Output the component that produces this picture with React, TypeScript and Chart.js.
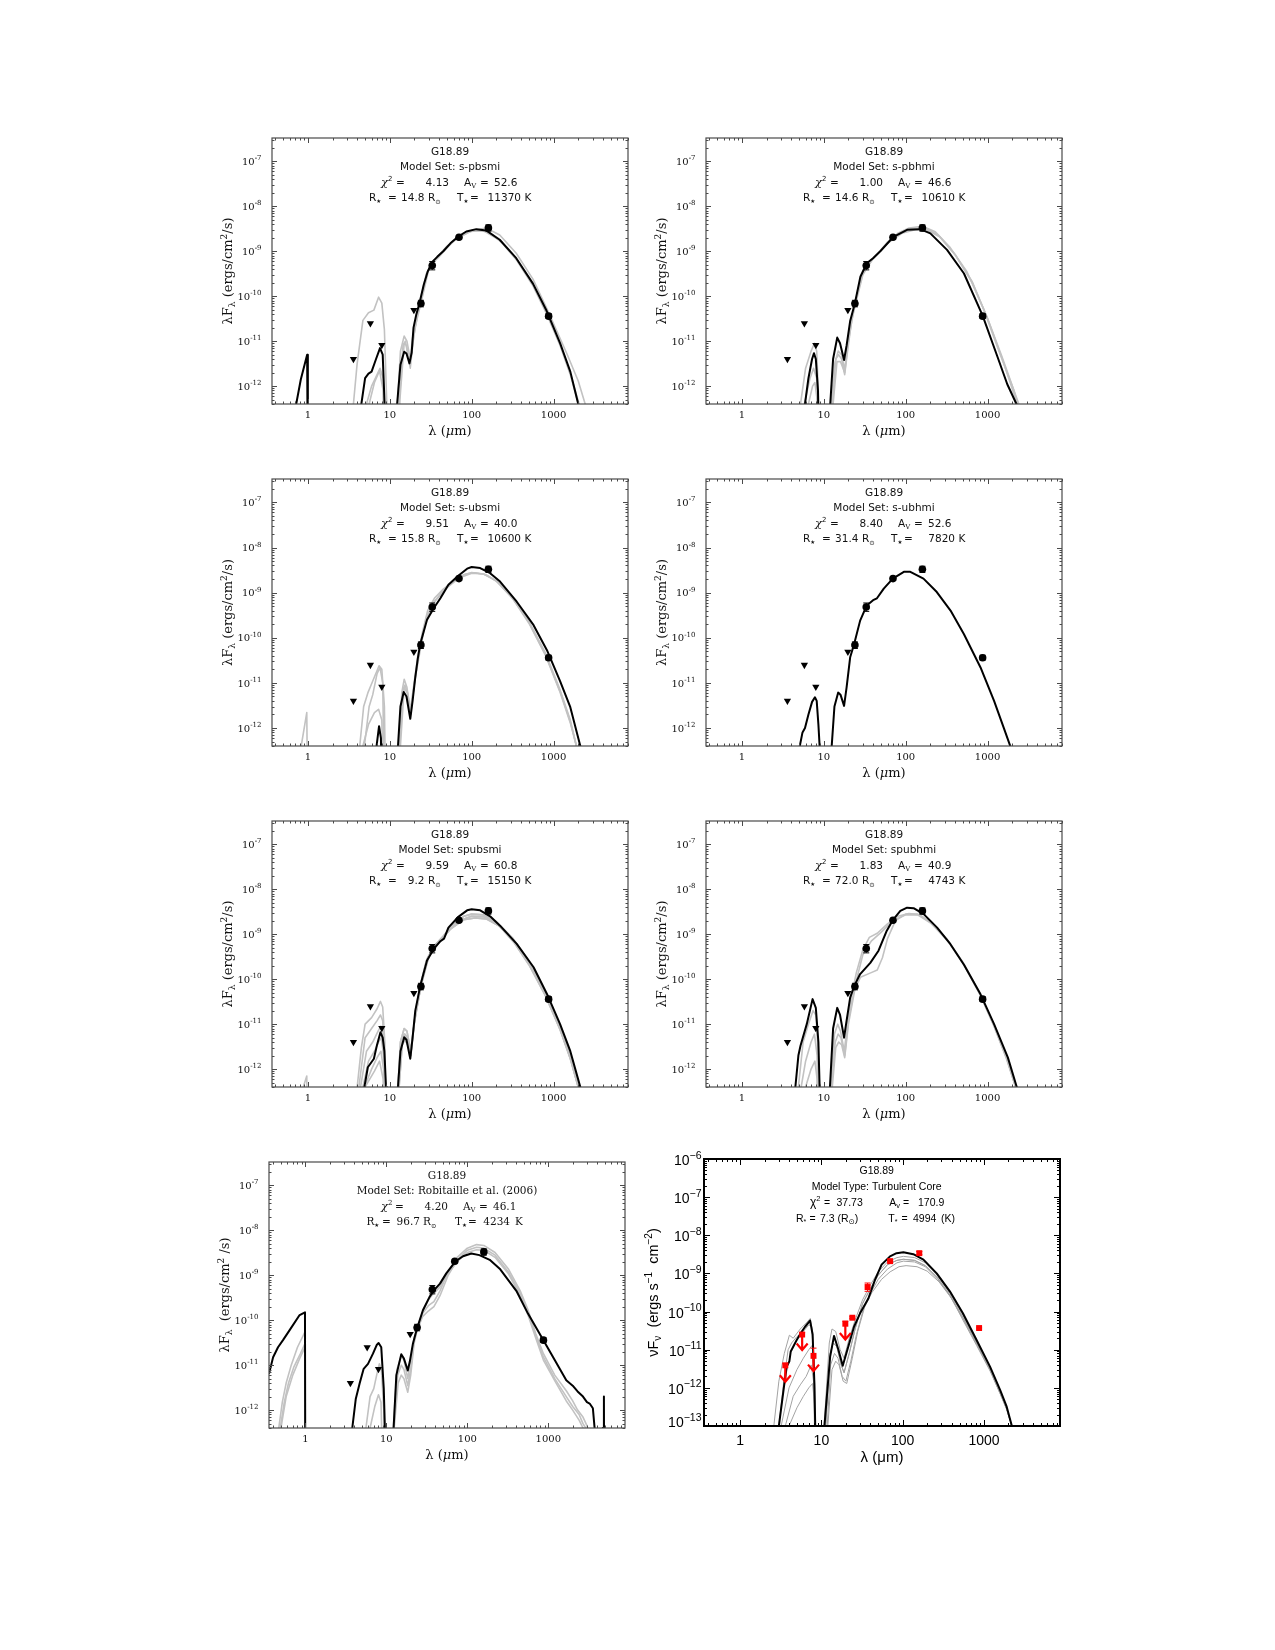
import React, { useEffect, useRef } from 'react';
import { Chart, registerables } from 'chart.js';
Chart.register(...registerables);

type Pt = [number, number];
type Seg = { t: string; font: string; dy?: number };

// ---------------- text content ----------------
const SOURCE = 'G18.89';
const MODEL_SETS = ['s-pbsmi', 's-pbhmi', 's-ubsmi', 's-ubhmi', 'spubsmi', 'spubhmi', 'Robitaille et al. (2006)'];
const CHI2 = ['4.13', '1.00', '9.51', '8.40', '9.59', '1.83', '4.20'];
const AV = ['52.6', '46.6', '40.0', '52.6', '60.8', '40.9', '46.1'];
const RSTAR = ['14.8', '14.6', '15.8', '31.4', '9.2', '72.0', '96.7'];
const TSTAR = ['11370', '10610', '10600', '7820', '15150', '4743', '4234'];
const TC_MODEL = 'Turbulent Core';
const TC_CHI2 = '37.73';
const TC_AV = '170.9';
const TC_R = '7.3';
const TC_T = '4994';

const X_TICK_LABELS = [1, 10, 100, 1000];
const Y_EXP_PY = [-12, -11, -10, -9, -8, -7];
const Y_EXP_TC = [-13, -12, -11, -10, -9, -8, -7, -6];

// ---------------- observations ----------------
const LIMIT_WAVE = [3.6, 5.8, 8.0, 19.7];
const LIMIT_FLUX = [4.0e-12, 2.5e-11, 8.2e-12, 4.9e-11];
const DET_WAVE = [24, 33, 70, 160, 870];
const DET_WAVE_R06 = [24, 37, 70, 160, 870];
const DET_FLUX = [6.9e-11, 4.8e-10, 2.05e-9, 3.3e-9, 3.6e-11];
const DET_LO = [5.8e-11, 3.85e-10, 1.9e-9, 2.8e-9, 3.2e-11];
const DET_HI = [8.1e-11, 5.9e-10, 2.2e-9, 3.85e-9, 4.1e-11];

const TC_LIMIT_WAVE = [3.6, 5.8, 8.0, 19.7];
const TC_LIMIT_FLUX = [3.9e-12, 2.5e-11, 6.9e-12, 4.8e-11];
const TC_LIMIT_HI = [4.3e-12, 2.8e-11, 1.1e-11, 5.6e-11];
const TC_LIMIT_TIP = [1.45e-12, 9.8e-12, 2.75e-12, 1.85e-11];
const TC_DET_WAVE = [24, 37, 70, 160, 870];
const TC_DET_FLUX = [6.9e-11, 4.4e-10, 2.1e-9, 3.4e-9, 3.7e-11];
const TC_DET_LO = [6.5e-11, 3.4e-10, 2.0e-9, 3.1e-9, 3.5e-11];
const TC_DET_HI = [7.3e-11, 5.6e-10, 2.2e-9, 3.75e-9, 3.9e-11];

// ---------------- panel 1 : s-pbsmi ----------------
const P1_FIT: Pt[] = [[0.70,3e-13],[0.82,1.4e-12],[0.98,5e-12],[1.0,1e-14],[4.3,1e-14],[4.5,4e-13],[5.0,1.5e-12],[5.5,1.9e-12],[6.0,2.1e-12],[6.8,4e-12],[7.6,7e-12],[8.2,5e-12],[8.7,3e-13],[9.0,1e-14],[11.8,1e-14],[12.3,4e-13],[13.5,3e-12],[15,5.8e-12],[16,5.3e-12],[17.4,3.2e-12],[18.5,5.5e-12],[19.5,2e-11],[21,3.8e-11],[23,6.9e-11],[26,1.8e-10],[29,3.5e-10],[33,5.8e-10],[38,7.5e-10],[45,1.0e-9],[55,1.5e-9],[67,2.05e-9],[86,2.75e-9],[114,3.1e-9],[150,2.9e-9],[220,1.8e-9],[350,7e-10],[560,1.9e-10],[810,5e-11],[1200,9e-12],[1600,2.1e-12],[2000,4e-13],[2300,1e-13]];
const P1_ALT_A: Pt[] = [[3.4,1e-14],[3.6,4e-13],[4.0,3.2e-12],[4.7,2.9e-11],[5.5,4.3e-11],[6.4,4.9e-11],[7.3,9.5e-11],[8.0,7e-11],[8.6,1.8e-11],[9.2,4e-13],[9.4,1e-14],[12,1e-14],[12.5,5e-13],[13.5,6e-12],[15,1.3e-11],[16.2,1e-11],[17.8,4e-12],[19,8e-12],[21,3e-11],[24,7.5e-11],[28,3e-10],[33,5.5e-10],[40,7.5e-10],[50,1.2e-9],[67,2e-9],[90,2.7e-9],[120,2.9e-9],[160,2.7e-9],[230,1.6e-9],[350,6.5e-10],[560,1.7e-10],[800,4.5e-11],[1200,8e-12],[1600,1.8e-12],[2000,4e-13],[2200,1e-13]];
const P1_ALT_B: Pt[] = [[4.8,1e-14],[5.2,4e-13],[6.0,1e-12],[7.0,1.8e-12],[7.6,2.5e-12],[8.3,1.5e-12],[8.8,1e-14],[12.5,1e-14],[13,4e-13],[14.5,8e-12],[15.5,1e-11],[17.5,3e-12],[19,1.2e-11],[24,7e-11],[30,4e-10],[40,8e-10],[60,1.7e-9],[100,2.9e-9],[150,3.3e-9],[220,2.3e-9],[350,9e-10],[560,2.4e-10],[830,5.2e-11],[1450,5.3e-12],[2000,1.3e-12],[2430,4e-13],[2600,1e-13]];
const P1_ALT_C: Pt[] = [[5.0,1e-14],[5.6,4e-13],[6.5,1.2e-12],[7.5,2.2e-12],[8.3,8e-13],[8.6,1e-14],[12.8,1e-14],[13.3,5e-13],[15,9e-12],[16,8e-12],[17.8,2.5e-12],[19.5,1.2e-11],[23,6.5e-11],[28,3.2e-10],[35,6.3e-10],[50,1.3e-9],[70,2.1e-9],[100,2.8e-9],[140,2.85e-9],[220,1.75e-9],[350,6.8e-10],[560,1.85e-10],[800,4.8e-11],[1200,8.5e-12],[1600,1.9e-12],[2050,4e-13],[2200,1e-13]];

// ---------------- panel 2 : s-pbhmi ----------------
const P2_FIT: Pt[] = [[5.7,1e-14],[5.9,4e-13],[6.5,1.5e-12],[7.2,4e-12],[7.6,5.4e-12],[8.0,4e-12],[8.5,8e-13],[8.8,1e-14],[11.6,1e-14],[12.0,4e-13],[13,4e-12],[14.6,1.2e-11],[15.8,9e-12],[17.7,3.8e-12],[19,8e-12],[21,2.8e-11],[24,7e-11],[28,2.7e-10],[33.5,5.4e-10],[40,7e-10],[49,1e-9],[70,2.05e-9],[104,3e-9],[150,3.1e-9],[200,2.5e-9],[320,1.07e-9],[515,3.2e-10],[870,3.7e-11],[1320,4.5e-12],[1740,1.1e-12],[2250,4e-13],[2500,1e-13]];
const P2_ALT_A: Pt[] = [[5.0,1e-14],[5.2,4e-13],[6.0,2.5e-12],[7.0,6e-12],[7.7,9e-12],[8.2,6e-12],[8.7,4e-13],[9.0,1e-14],[12,1e-14],[12.4,4e-13],[13.5,3e-12],[15,6e-12],[16.5,5e-12],[18,2.3e-12],[19.5,8e-12],[22,3.5e-11],[25,9e-11],[29,3e-10],[35,5.5e-10],[45,8.5e-10],[60,1.6e-9],[80,2.5e-9],[110,3.3e-9],[160,3.6e-9],[230,2.7e-9],[350,1.2e-9],[560,3.5e-10],[900,5e-11],[1400,5.5e-12],[2000,1e-12],[2650,2.5e-13]];
const P2_ALT_B: Pt[] = [[5.5,1e-14],[5.8,4e-13],[6.8,1.5e-12],[7.5,2.5e-12],[8.2,1.5e-12],[8.6,1e-14],[12.4,1e-14],[12.8,4e-13],[14,4e-12],[15.2,5e-12],[16.5,4e-12],[18,1.8e-12],[19.5,6e-12],[22,3e-11],[25,8e-11],[30,3e-10],[40,7e-10],[55,1.3e-9],[75,2.2e-9],[110,3.1e-9],[170,3.35e-9],[250,2.3e-9],[400,8.5e-10],[650,2e-10],[1000,3.2e-11],[1500,4.5e-12],[2100,8e-13],[2600,2e-13]];
const P2_ALT_C: Pt[] = [[6.0,1e-14],[6.5,4e-13],[7.3,1e-12],[7.8,1.2e-12],[8.3,5e-13],[8.5,1e-14],[12.5,1e-14],[13,4e-13],[14.5,3.5e-12],[16,3.5e-12],[18,2e-12],[20,1e-11],[24,7e-11],[30,3.2e-10],[40,6.8e-10],[60,1.5e-9],[90,2.5e-9],[130,3e-9],[180,3e-9],[260,2.1e-9],[400,8.5e-10],[650,2.1e-10],[1000,3.2e-11],[1600,3e-12],[2300,4e-13],[2500,1e-13]];

// ---------------- panel 3 : s-ubsmi ----------------
const P3_FIT: Pt[] = [[6.6,1e-14],[6.9,4e-13],[7.4,1.1e-12],[7.8,6e-13],[8.1,1e-14],[12.3,1e-14],[12.6,4e-13],[13.5,3e-12],[14.8,6.3e-12],[16,5e-12],[17.8,1.6e-12],[19,4e-12],[20.5,1.35e-11],[22,3.5e-11],[23.6,7.4e-11],[28.5,2.5e-10],[34.4,4.5e-10],[41.5,7.5e-10],[52,1.5e-9],[68,2.35e-9],[88,3.4e-9],[100,3.7e-9],[127,3.5e-9],[168,2.7e-9],[222,1.76e-9],[355,6.3e-10],[570,1.9e-10],[830,5.3e-11],[1200,1.1e-11],[1600,2.9e-12],[2120,4e-13],[2300,1e-13]];
const P3_ALT_A: Pt[] = [[0.8,1e-14],[0.83,4e-13],[0.97,2.2e-12],[1.0,1e-14],[4.1,1e-14],[4.3,4e-13],[4.8,3e-12],[5.4,6e-12],[6.2,1.1e-11],[7.4,2.4e-11],[8.0,2e-11],[8.6,3e-12],[9.0,1e-14],[12.5,1e-14],[13,4e-13],[14,6e-12],[15,1.2e-11],[16.2,8e-12],[17.8,2.5e-12],[19.5,8e-12],[22,4e-11],[25,1.3e-10],[29,4e-10],[35,7.5e-10],[45,1.2e-9],[60,1.8e-9],[80,2.5e-9],[100,2.8e-9],[140,2.6e-9],[200,1.8e-9],[300,8.5e-10],[500,2.3e-10],[800,4.5e-11],[1200,7e-12],[1600,1.5e-12],[1900,4e-13],[2000,1e-13]];
const P3_ALT_B: Pt[] = [[4.4,1e-14],[4.7,4e-13],[5.5,1.2e-12],[6.5,2.2e-12],[7.3,2.6e-12],[8.0,1.5e-12],[8.5,1e-14],[13,1e-14],[13.5,4e-13],[15,8e-12],[16.3,6e-12],[18,2e-12],[20,1e-11],[24,6.5e-11],[28,2.8e-10],[34,6e-10],[45,1.1e-9],[60,1.8e-9],[85,2.6e-9],[110,2.75e-9],[150,2.5e-9],[210,1.7e-9],[320,7.5e-10],[500,2.2e-10],[800,4.2e-11],[1200,6.5e-12],[1600,1.4e-12],[1900,4e-13],[2000,1e-13]];
const P3_ALT_C: Pt[] = [[4.6,1e-14],[4.9,4e-13],[5.6,3e-12],[6.2,5.5e-12],[7.0,1.6e-11],[7.6,2.2e-11],[8.2,1e-11],[8.7,1e-14],[12.8,1e-14],[13.2,4e-13],[14.5,7e-12],[15.3,9e-12],[16.5,6e-12],[18,2.2e-12],[19.5,7e-12],[23,5.5e-11],[28,2.7e-10],[35,6.2e-10],[50,1.3e-9],[70,2.1e-9],[100,2.7e-9],[140,2.6e-9],[200,1.85e-9],[320,7.2e-10],[500,2.1e-10],[800,4e-11],[1200,6.2e-12],[1600,1.3e-12],[1900,4e-13],[2000,1e-13]];

// ---------------- panel 4 : s-ubhmi ----------------
const P4_FIT: Pt[] = [[5.0,1e-14],[5.1,4e-13],[5.5,8e-13],[5.9,1e-12],[6.5,2e-12],[7.2,3.8e-12],[7.8,4.8e-12],[8.2,4e-12],[8.6,1.2e-12],[8.9,4e-13],[9.1,1e-14],[12.2,1e-14],[12.5,4e-13],[13.5,3e-12],[15,6.1e-12],[16,5.5e-12],[17.7,3.1e-12],[19,8e-12],[21,3.7e-11],[23.5,7.3e-11],[27.8,2.4e-10],[33.5,5.2e-10],[40,6.8e-10],[44.6,7.5e-10],[54,1.23e-9],[69.6,2.05e-9],[95,2.9e-9],[114,2.9e-9],[165,2.05e-9],[240,1.03e-9],[353,4e-10],[515,1.2e-10],[820,2.2e-11],[1200,4e-12],[1580,1e-12],[2000,3e-13],[2100,1e-13]];

// ---------------- panel 5 : spubsmi ----------------
const P5_FIT: Pt[] = [[4.7,1e-14],[4.9,4e-13],[5.4,1.1e-12],[6.4,1.7e-12],[7.0,3.5e-12],[7.7,6.6e-12],[8.2,5e-12],[8.6,2.5e-12],[9.0,4e-13],[9.2,1e-14],[12.3,1e-14],[12.6,4e-13],[13.5,2.5e-12],[15,5.1e-12],[16,4.5e-12],[17.8,1.7e-12],[19,5e-12],[20.5,2e-11],[23.6,7.2e-11],[28.5,2.6e-10],[34.4,4.7e-10],[41.5,7e-10],[46,8e-10],[52,1.4e-9],[68,2.4e-9],[88,3.4e-9],[100,3.6e-9],[127,3.4e-9],[168,2.5e-9],[222,1.55e-9],[355,6.1e-10],[570,1.84e-10],[830,4.7e-11],[1200,1e-11],[1600,2.5e-12],[2120,4e-13],[2300,1e-13]];
const P5_NIR_A: Pt[] = [[3.8,1e-14],[4.0,4e-13],[4.5,3e-12],[5.0,1e-11],[6.0,1.4e-11],[7.0,2.2e-11],[7.7,3.2e-11],[8.2,2.4e-11],[8.7,4e-12],[9.0,1e-14]];
const P5_NIR_B: Pt[] = [[4.0,1e-14],[4.2,4e-13],[5.0,5e-12],[6.0,8e-12],[7.0,1.2e-11],[7.7,1.6e-11],[8.2,1.2e-11],[8.7,1e-12],[8.9,1e-14]];
const P5_NIR_C: Pt[] = [[4.2,1e-14],[4.4,4e-13],[5.2,2.5e-12],[6.2,4e-12],[7.2,7e-12],[7.8,9e-12],[8.4,4e-12],[8.8,1e-14]];
const P5_NIR_D: Pt[] = [[4.4,1e-14],[4.7,4e-13],[5.5,1.5e-12],[6.5,2.5e-12],[7.3,4e-12],[7.9,5e-12],[8.4,2e-12],[8.8,1e-14]];
const P5_NIR_E: Pt[] = [[4.5,1e-14],[4.9,4e-13],[6.0,1e-12],[7.0,1.8e-12],[7.8,2.5e-12],[8.4,1e-12],[8.7,1e-14]];
const P5_NIR_F: Pt[] = [[0.85,1e-14],[0.88,4e-13],[0.97,7e-13],[1.0,1e-14],[4.6,1e-14],[5.0,4e-13],[6.5,9e-13],[7.5,1.5e-12],[8.3,6e-13],[8.6,1e-14]];
const P5_MAIN_1: Pt[] = [[12.3,1e-14],[12.6,4e-13],[13.5,4e-12],[15,8e-12],[16.2,7e-12],[18,2.5e-12],[19.5,8e-12],[23,6e-11],[28,2.6e-10],[35,5.5e-10],[45,9e-10],[60,1.7e-9],[80,2.5e-9],[100,2.8e-9],[140,2.7e-9],[200,1.9e-9],[320,8e-10],[500,2.5e-10],[800,5e-11],[1200,9e-12],[1600,2e-12],[2050,4e-13],[2200,1e-13]];
const P5_MAIN_2: Pt[] = [[12.5,1e-14],[12.8,4e-13],[14,5e-12],[15.2,6e-12],[16.5,5e-12],[18,2e-12],[20,1.1e-11],[24,7e-11],[29,3e-10],[36,5.8e-10],[50,1.1e-9],[70,2e-9],[100,2.5e-9],[140,2.45e-9],[200,1.75e-9],[320,7.3e-10],[500,2.3e-10],[800,4.5e-11],[1200,8e-12],[1600,1.8e-12],[2000,4e-13],[2150,1e-13]];
const P5_MAIN_3: Pt[] = [[12.6,1e-14],[13,4e-13],[14.2,3.5e-12],[15.3,4.5e-12],[16.5,3.5e-12],[18,2e-12],[20,1.2e-11],[24,7e-11],[30,3.2e-10],[40,6.5e-10],[55,1.3e-9],[80,2.1e-9],[110,2.3e-9],[150,2.2e-9],[220,1.5e-9],[330,6.5e-10],[500,2.1e-10],[800,4.2e-11],[1200,7.5e-12],[1600,1.7e-12],[2000,4e-13],[2150,1e-13]];

// ---------------- panel 6 : spubhmi ----------------
const P6_FIT: Pt[] = [[4.3,1e-14],[4.5,4e-13],[4.9,2e-12],[5.2,3.3e-12],[6.2,1e-11],[7.3,3.6e-11],[8.0,2.3e-11],[8.6,4e-12],[8.9,4e-13],[9.1,1e-14],[11.6,1e-14],[11.9,4e-13],[13,8e-12],[14.6,2.3e-11],[15.8,1.6e-11],[17.7,5e-12],[19,1.2e-11],[21,3.9e-11],[23.5,7e-11],[27.8,1.3e-10],[37,2.3e-10],[46.6,4.3e-10],[58.8,1.2e-9],[69.6,2.05e-9],[86,3.3e-9],[104,3.9e-9],[125,3.8e-9],[166,2.8e-9],[242,1.4e-9],[352,6e-10],[515,2.1e-10],[820,4.6e-11],[1200,1e-11],[1770,1.8e-12],[2270,4e-13],[2450,1e-13]];
const P6_ALT_A: Pt[] = [[4.6,1e-14],[4.9,4e-13],[5.6,4e-12],[6.5,1e-11],[7.4,2e-11],[8.0,1.6e-11],[8.5,3e-12],[8.8,1e-14],[11.8,1e-14],[12.2,4e-13],[13.5,6e-12],[14.8,1e-11],[16,7e-12],[17.8,2.5e-12],[19.5,1e-11],[22,4.5e-11],[25,1.4e-10],[30,4.5e-10],[36,8.5e-10],[45,1.05e-9],[60,1.7e-9],[80,2.5e-9],[110,2.9e-9],[150,2.7e-9],[220,1.6e-9],[350,6e-10],[520,2e-10],[820,4.3e-11],[1200,9e-12],[1700,1.8e-12],[2200,4e-13],[2350,1e-13]];
const P6_ALT_B: Pt[] = [[5.0,1e-14],[5.3,4e-13],[6.0,1.5e-12],[7.0,4e-12],[7.7,6e-12],[8.3,2e-12],[8.6,1e-14],[12,1e-14],[12.4,4e-13],[13.8,4e-12],[15,6e-12],[16.2,5e-12],[18,2e-12],[20,1.2e-11],[24,7e-11],[30,3.5e-10],[38,7e-10],[50,1.1e-9],[70,2e-9],[100,2.7e-9],[140,2.7e-9],[200,1.8e-9],[320,7.5e-10],[500,2.3e-10],[800,4.8e-11],[1200,9e-12],[1700,1.7e-12],[2200,4e-13],[2350,1e-13]];
const P6_ALT_C: Pt[] = [[5.5,1e-14],[6.0,4e-13],[7.0,1e-12],[7.8,1.5e-12],[8.3,6e-13],[8.5,1e-14],[12.3,1e-14],[12.7,4e-13],[14,3e-12],[15.2,4e-12],[16.5,3.5e-12],[18,1.8e-12],[20,1e-11],[24,6e-11],[28,1.1e-10],[38,1.4e-10],[45,1.6e-10],[52,3e-10],[60,8e-10],[75,2e-9],[100,2.8e-9],[140,2.8e-9],[200,1.9e-9],[320,7.8e-10],[500,2.4e-10],[800,5e-11],[1200,9.5e-12],[1700,1.8e-12],[2200,4e-13],[2350,1e-13]];

// ---------------- panel 7 : Robitaille et al. (2006) ----------------
const P7_FIT: Pt[] = [[0.356,6.4e-12],[0.40,1.5e-11],[0.46,2.5e-11],[0.53,3.6e-11],[0.64,6e-11],[0.85,1.3e-10],[0.99,1.5e-10],[1.0,1e-14],[3.7,1e-14],[3.8,4e-13],[4.2,1.8e-12],[4.68,3.9e-12],[5.25,8.3e-12],[5.94,1.07e-11],[6.84,1.8e-11],[7.6,2.8e-11],[8.03,3.1e-11],[8.66,2.5e-11],[9.3,3e-12],[9.6,4e-13],[9.8,1e-14],[12.0,1e-14],[12.3,4e-13],[13.3,6e-12],[15.3,1.74e-11],[16.5,1.4e-11],[18.4,7.6e-12],[19.5,1.2e-11],[21.3,3e-11],[23.9,6.5e-11],[28.3,1.66e-10],[34.2,3.3e-10],[38.7,4.6e-10],[46,6.5e-10],[55,1.1e-9],[71.8,2.05e-9],[88.5,2.65e-9],[112,3.05e-9],[141,2.8e-9],[189,2.2e-9],[251,1.4e-9],[403,4.5e-10],[561,1.4e-10],[870,3.6e-11],[1200,1.3e-11],[1667,4.6e-12],[2000,3.5e-12],[2300,2.6e-12],[2680,2e-12],[3000,1.5e-12],[3240,1.4e-12],[3550,1.1e-12],[3730,4e-13],[3800,1e-14],[4500,1e-14],[4700,4e-13],[4800,3e-13],[4860,2e-12],[4900,1e-14]];
const P7_UV_A: Pt[] = [[0.44,1e-14],[0.47,4e-13],[0.52,1.5e-12],[0.58,4e-12],[0.67,1e-11],[0.8,2.5e-11],[0.99,5.5e-11],[1.0,1e-14]];
const P7_UV_B: Pt[] = [[0.46,1e-14],[0.49,4e-13],[0.55,1.5e-12],[0.62,4e-12],[0.72,9e-12],[0.87,1.8e-11],[0.99,3e-11],[1.0,1e-14]];
const P7_UV_C: Pt[] = [[0.48,1e-14],[0.5,4e-13],[0.58,2e-12],[0.7,6e-12],[0.85,1.4e-11],[0.99,2.5e-11],[1.0,1e-14]];
const P7_NIR_A: Pt[] = [[5.3,1e-14],[5.6,4e-13],[6.3,2e-12],[7.0,3e-12],[7.6,6e-12],[8.2,1.07e-11],[8.7,8e-12],[9.3,1e-12],[9.5,1e-14]];
const P7_NIR_B: Pt[] = [[5.8,1e-14],[6.3,4e-13],[7.2,1.2e-12],[8.0,2.2e-12],[8.6,1.5e-12],[9.2,1e-14]];
const P7_MAIN_A: Pt[] = [[11.8,1e-14],[12.2,4e-13],[13.5,8e-12],[15.3,1.6e-11],[16.5,1.3e-11],[18.4,5e-12],[20,1.3e-11],[22,4e-11],[24,6.5e-11],[28,1.4e-10],[33,2.1e-10],[38.7,2.6e-10],[46,4.5e-10],[58,1.2e-9],[75,2.5e-9],[100,4e-9],[130,4.8e-9],[160,4.6e-9],[220,3.2e-9],[320,1.4e-9],[450,4.5e-10],[561,1.7e-10],[700,5e-11],[870,1.8e-11],[1200,6e-12],[1667,2.7e-12],[2000,1.6e-12],[2300,1e-12],[2680,7e-13],[3000,4.5e-13],[3200,3e-13]];
const P7_MAIN_B: Pt[] = [[12,1e-14],[12.4,4e-13],[13.8,6e-12],[15.3,1e-11],[16.5,8e-12],[18.4,3.5e-12],[20,8e-12],[22,3.5e-11],[24,6e-11],[28,1.2e-10],[33,1.6e-10],[38.7,2e-10],[46,3.5e-10],[58,1e-9],[75,2.2e-9],[100,3.6e-9],[130,4.2e-9],[160,4e-9],[220,2.8e-9],[320,1.2e-9],[450,4e-10],[561,1.5e-10],[700,4.5e-11],[870,1.5e-11],[1200,5e-12],[1667,2e-12],[2000,1.2e-12],[2400,8e-13],[2680,5e-13],[2900,4e-13],[3100,2e-13]];
const P7_MAIN_C: Pt[] = [[12.1,1e-14],[12.5,4e-13],[14,4e-12],[15.3,6e-12],[16.5,5e-12],[18.4,2.5e-12],[20,6e-12],[22,3e-11],[24,6e-11],[28,1.5e-10],[33,2.8e-10],[38.7,4e-10],[46,5.5e-10],[58,1.1e-9],[75,2e-9],[100,3.2e-9],[130,3.7e-9],[160,3.6e-9],[220,2.5e-9],[320,1.1e-9],[450,3.5e-10],[561,1.3e-10],[700,4e-11],[870,1.3e-11],[1200,4.5e-12],[1667,1.6e-12],[2000,1e-12],[2400,6e-13],[2680,4e-13],[2800,1e-13]];

// ---------------- panel 8 : Turbulent Core ----------------
const P8_FIT: Pt[] = [[2.9,1e-14],[3.0,1e-13],[3.47,1.1e-12],[3.75,3.6e-12],[4.04,5e-12],[4.2,9e-12],[4.97,1.8e-11],[5.5,2.6e-11],[6.3,4e-11],[7.26,5.8e-11],[7.8,2.5e-11],[8.2,1.3e-12],[8.4,1e-13],[8.5,1e-14],[10.7,1e-14],[10.9,1e-13],[12.8,6.5e-12],[14.3,2.3e-11],[16.2,1e-11],[18.3,3.8e-12],[21.4,1.2e-11],[25.2,4e-11],[29.9,9e-11],[37.8,2.2e-10],[45.6,6.8e-10],[55,1.7e-9],[69.8,2.8e-9],[84,3.4e-9],[102,3.6e-9],[135,3.2e-9],[180,2.3e-9],[262,1e-9],[380,3.4e-10],[550,9e-11],[810,1.8e-11],[1185,3.6e-12],[1580,8.7e-13],[1900,3.2e-13],[2200,1e-13],[2400,1e-14]];
const P8_NIR_A: Pt[] = [[2.5,1e-14],[2.6,1e-13],[3.0,1.5e-12],[3.5,8e-12],[4.04,2.4e-11],[4.5,2e-11],[5.5,3.5e-11],[6.5,5e-11],[7.3,6.6e-11],[7.8,3e-11],[8.3,1e-12],[8.5,1e-14]];
const P8_NIR_B: Pt[] = [[3.0,1e-14],[3.2,1e-13],[4.0,1e-12],[5.0,3e-12],[6.0,6e-12],[7.0,1e-11],[7.7,1.3e-11],[8.2,2e-12],[8.5,1e-14]];
const P8_NIR_C: Pt[] = [[3.3,1e-14],[3.6,1e-13],[4.5,6e-13],[5.5,1.2e-12],[6.5,2e-12],[7.5,4e-12],[8.0,1.5e-12],[8.4,1e-14]];
const P8_NIR_D: Pt[] = [[3.6,1e-14],[4.0,1e-13],[5.0,3e-13],[6.0,6e-13],[7.0,1e-12],[7.8,1.3e-12],[8.2,4e-13],[8.4,1e-14]];
const P8_NIR_E: Pt[] = [[2.8,1e-14],[3.0,1e-13],[3.5,2e-12],[3.9,1e-11],[4.3,1.5e-11],[5.0,2.2e-11],[6.0,3e-11],[7.0,4.5e-11],[7.6,4e-11],[8.1,5e-12],[8.4,1e-14]];
const P8_MAIN_A: Pt[] = [[10.5,1e-14],[10.8,1e-13],[12.5,1.5e-11],[13.5,3.5e-11],[15,3e-11],[17,1e-11],[19,6e-12],[22,2e-11],[26,6e-11],[32,2e-10],[40,5e-10],[50,1.1e-9],[65,2e-9],[85,2.6e-9],[102,2.8e-9],[140,2.6e-9],[190,1.9e-9],[270,8.5e-10],[380,3e-10],[550,8e-11],[810,1.6e-11],[1185,3.3e-12],[1580,8e-13],[1900,3e-13],[2200,1e-13],[2400,1e-14]];
const P8_MAIN_B: Pt[] = [[11,1e-14],[11.3,1e-13],[12.8,8e-12],[14,1.5e-11],[15.5,1.2e-11],[17.5,4e-12],[19,2.5e-12],[22,8e-12],[26,3.5e-11],[32,1.6e-10],[40,4e-10],[50,9e-10],[65,1.7e-9],[85,2.2e-9],[102,2.35e-9],[140,2.2e-9],[190,1.6e-9],[270,7.5e-10],[380,2.7e-10],[550,7e-11],[810,1.5e-11],[1185,3e-12],[1580,7.5e-13],[1900,2.8e-13],[2200,1e-13],[2400,1e-14]];
const P8_MAIN_C: Pt[] = [[11.5,1e-14],[11.8,1e-13],[13,4e-12],[14.5,8e-12],[16,6e-12],[18,2e-12],[20,1.5e-12],[23,5e-12],[27,2.5e-11],[33,1.2e-10],[40,3e-10],[50,7e-10],[65,1.3e-9],[85,1.9e-9],[102,2.1e-9],[140,2e-9],[190,1.5e-9],[270,7e-10],[380,2.6e-10],[550,6.5e-11],[810,1.4e-11],[1185,3e-12],[1580,7e-13],[1900,2.8e-13],[2200,1e-13],[2400,1e-14]];
const P8_MAIN_D: Pt[] = [[11.5,1e-14],[12,1e-13],[13.5,3e-12],[15,5e-12],[16.5,4e-12],[18.5,1.5e-12],[20.5,1.3e-12],[24,6e-12],[28,3e-11],[34,1.3e-10],[42,3.2e-10],[55,7e-10],[70,1.1e-9],[90,1.5e-9],[110,1.6e-9],[150,1.5e-9],[200,1.15e-9],[280,6e-10],[400,2.2e-10],[550,6e-11],[810,1.3e-11],[1185,2.8e-12],[1580,7e-13],[1900,2.7e-13],[2200,1e-13],[2400,1e-14]];

// ---------------- layout ----------------
const PAD = { l: 86, t: 16, r: 16, b: 48 };
const SERIF = '"DejaVu Serif"';
const SANS = '"DejaVu Sans"';
const IDLF = '"Liberation Sans"';

interface Panel {
  box: [number, number, number, number];
  xr: [number, number];
  yr: [number, number];
  idl: boolean;
  fit: Pt[];
  alts: Pt[][];
  idx: number;
  detWave: number[];
}

const PANELS: Panel[] = [
  { box: [272, 138, 628, 404], xr: [0.365, 8100], yr: [4e-13, 3.3e-7], idl: false, fit: P1_FIT, alts: [P1_ALT_A, P1_ALT_B, P1_ALT_C], idx: 0, detWave: DET_WAVE },
  { box: [706, 138, 1062, 404], xr: [0.365, 8100], yr: [4e-13, 3.3e-7], idl: false, fit: P2_FIT, alts: [P2_ALT_A, P2_ALT_B, P2_ALT_C], idx: 1, detWave: DET_WAVE },
  { box: [272, 479, 628, 746], xr: [0.365, 8100], yr: [4e-13, 3.3e-7], idl: false, fit: P3_FIT, alts: [P3_ALT_A, P3_ALT_B, P3_ALT_C], idx: 2, detWave: DET_WAVE },
  { box: [706, 479, 1062, 746], xr: [0.365, 8100], yr: [4e-13, 3.3e-7], idl: false, fit: P4_FIT, alts: [], idx: 3, detWave: DET_WAVE },
  { box: [272, 821, 628, 1087], xr: [0.365, 8100], yr: [4e-13, 3.3e-7], idl: false, fit: P5_FIT, alts: [
      [...P5_NIR_A, ...P5_MAIN_1], [...P5_NIR_B, ...P5_MAIN_2], [...P5_NIR_C, ...P5_MAIN_1],
      [...P5_NIR_D, ...P5_MAIN_2], [...P5_NIR_E, ...P5_MAIN_3], [...P5_NIR_F, ...P5_MAIN_3]], idx: 4, detWave: DET_WAVE },
  { box: [706, 821, 1062, 1087], xr: [0.365, 8100], yr: [4e-13, 3.3e-7], idl: false, fit: P6_FIT, alts: [P6_ALT_A, P6_ALT_B, P6_ALT_C], idx: 5, detWave: DET_WAVE },
  { box: [269, 1162, 625, 1428], xr: [0.356, 8850], yr: [4e-13, 3.3e-7], idl: false, fit: P7_FIT, alts: [
      [...P7_UV_A, ...P7_NIR_A, ...P7_MAIN_A], [...P7_UV_B, ...P7_NIR_B, ...P7_MAIN_B], [...P7_UV_C, ...P7_MAIN_C]], idx: 6, detWave: DET_WAVE_R06 },
  { box: [704, 1159, 1060, 1426], xr: [0.36, 8600], yr: [1e-13, 1e-6], idl: true, fit: P8_FIT, alts: [
      [...P8_NIR_A, ...P8_MAIN_A], [...P8_NIR_B, ...P8_MAIN_B], [...P8_NIR_C, ...P8_MAIN_C],
      [...P8_NIR_D, ...P8_MAIN_D], [...P8_NIR_E, ...P8_MAIN_B]], idx: 7, detWave: TC_DET_WAVE },
];

// ---------------- text helpers ----------------
function flowWidth(ctx: CanvasRenderingContext2D, segs: Seg[]) {
  let w = 0;
  for (const s of segs) { ctx.font = s.font; w += ctx.measureText(s.t).width; }
  return w;
}
function drawFlow(ctx: CanvasRenderingContext2D, segs: Seg[], x: number, y: number, align: 'left' | 'center' | 'right') {
  const w = flowWidth(ctx, segs);
  let cx = align === 'left' ? x : align === 'center' ? x - w / 2 : x - w;
  ctx.textAlign = 'left';
  ctx.textBaseline = 'alphabetic';
  for (const s of segs) {
    ctx.font = s.font;
    ctx.fillText(s.t, cx, y + (s.dy || 0));
    cx += ctx.measureText(s.t).width;
  }
}
const pf = (fam: string, px: number, it = false) => `${it ? 'italic ' : ''}${px}px ${fam}`;

function annotatePy(ctx: CanvasRenderingContext2D, cx: number, top: number, i: number) {
  const serif = i === 6;
  const fam = serif ? SERIF : SANS;
  const f = (px: number) => pf(fam, px);
  const L = serif
    ? { chi: -66, eq1: -52, cv: 1, a: 16, eq2: 32, av: 46, r: -80.6, eq3: -65, rv: -27, rs: -24, t: 8, eq4: 21, tv: 63, k: 68 }
    : { chi: -69, eq1: -54, cv: -1, a: 14, eq2: 30, av: 44, r: -81, eq3: -62, rv: -25.5, rs: -22, t: 7, eq4: 20, tv: 71, k: 74.5 };
  ctx.fillStyle = '#111';
  drawFlow(ctx, [{ t: SOURCE, font: f(10.5) }], cx, top + 17, 'center');
  drawFlow(ctx, [{ t: 'Model Set: ' + MODEL_SETS[i], font: f(10.5) }], cx, top + 32.4, 'center');
  const y3 = top + 47.8;
  drawFlow(ctx, [{ t: 'χ', font: pf(SERIF, 11.5, true) }, { t: '2', font: f(7), dy: -4.5 }], cx + L.chi, y3, 'left');
  drawFlow(ctx, [{ t: '=', font: f(10.5) }], cx + L.eq1, y3, 'left');
  drawFlow(ctx, [{ t: CHI2[i], font: f(10.5) }], cx + L.cv, y3, 'right');
  drawFlow(ctx, [{ t: 'A', font: f(10.5) }, { t: 'V', font: pf(SERIF, 7), dy: 2.5 }], cx + L.a, y3, 'left');
  drawFlow(ctx, [{ t: '=', font: f(10.5) }], cx + L.eq2, y3, 'left');
  drawFlow(ctx, [{ t: AV[i], font: f(10.5) }], cx + L.av, y3, 'left');
  const y4 = top + 63.2;
  drawFlow(ctx, [{ t: 'R', font: f(10.5) }, { t: '★', font: pf(SANS, 5.5), dy: 1.5 }], cx + L.r, y4, 'left');
  drawFlow(ctx, [{ t: '=', font: f(10.5) }], cx + L.eq3, y4, 'left');
  drawFlow(ctx, [{ t: RSTAR[i], font: f(10.5) }], cx + L.rv, y4, 'right');
  drawFlow(ctx, [{ t: 'R', font: f(10.5) }, { t: '⊙', font: f(6.5), dy: 3 }], cx + L.rs, y4, 'left');
  drawFlow(ctx, [{ t: 'T', font: f(10.5) }, { t: '★', font: pf(SANS, 5.5), dy: 1.5 }], cx + L.t, y4, 'left');
  drawFlow(ctx, [{ t: '=', font: f(10.5) }], cx + L.eq4, y4, 'left');
  drawFlow(ctx, [{ t: TSTAR[i], font: f(10.5) }], cx + L.tv, y4, 'right');
  drawFlow(ctx, [{ t: 'K', font: f(10.5) }], cx + L.k, y4, 'left');
}

function annotateTc(ctx: CanvasRenderingContext2D, cx: number, top: number) {
  const f = (px: number) => pf(IDLF, px);
  ctx.fillStyle = '#000';
  drawFlow(ctx, [{ t: SOURCE, font: f(10.5) }], cx - 5.3, top + 15.2, 'center');
  drawFlow(ctx, [{ t: 'Model Type: ' + TC_MODEL, font: f(10.5) }], cx - 5.3, top + 31.2, 'center');
  const y3 = top + 46.8;
  drawFlow(ctx, [{ t: 'χ', font: pf(IDLF, 12) }, { t: '2', font: f(7.5), dy: -4.5 }], cx - 72, y3, 'left');
  drawFlow(ctx, [{ t: '=', font: f(10.5) }], cx - 58, y3, 'left');
  drawFlow(ctx, [{ t: TC_CHI2, font: f(10.5) }], cx - 45.5, y3, 'left');
  drawFlow(ctx, [{ t: 'A', font: f(10.5) }, { t: 'v', font: f(7.5), dy: 2.5 }], cx + 7.3, y3, 'left');
  drawFlow(ctx, [{ t: '=', font: f(10.5) }], cx + 21, y3, 'left');
  drawFlow(ctx, [{ t: TC_AV, font: f(10.5) }], cx + 36, y3, 'left');
  const y4 = top + 62.8;
  drawFlow(ctx, [{ t: 'R', font: f(10.5) }, { t: '*', font: f(7), dy: 2.5 }], cx - 86, y4, 'left');
  drawFlow(ctx, [{ t: '=', font: f(10.5) }], cx - 72.5, y4, 'left');
  drawFlow(ctx, [{ t: TC_R, font: f(10.5) }], cx - 62, y4, 'left');
  drawFlow(ctx, [{ t: '(R', font: f(10.5) }, { t: '⊙', font: pf(SANS, 7.5), dy: 2 }, { t: ')', font: f(10.5) }], cx - 44.5, y4, 'left');
  drawFlow(ctx, [{ t: 'T', font: f(10.5) }, { t: '*', font: f(7), dy: 2.5 }], cx + 6.3, y4, 'left');
  drawFlow(ctx, [{ t: '=', font: f(10.5) }], cx + 19.5, y4, 'left');
  drawFlow(ctx, [{ t: TC_T, font: f(10.5) }], cx + 31, y4, 'left');
  drawFlow(ctx, [{ t: '(K)', font: f(10.5) }], cx + 59, y4, 'left');
}

function decadeTicks(min: number, max: number) {
  const out: { v: number; major: boolean }[] = [];
  for (let d = Math.floor(Math.log10(min)); d <= Math.ceil(Math.log10(max)); d++) {
    for (let k = 1; k <= 9; k++) {
      const v = k * Math.pow(10, d);
      if (v >= min * 0.9999 && v <= max * 1.0001) out.push({ v, major: k === 1 });
    }
  }
  return out;
}

function makeDecor(p: Panel) {
  return {
    id: 'sedDecor',
    afterDatasetsDraw(chart: any) {
      const ctx: CanvasRenderingContext2D = chart.ctx;
      const xs = chart.scales.x, ys = chart.scales.y;
      const { left, right, top, bottom } = chart.chartArea;
      ctx.save();
      ctx.beginPath();
      ctx.rect(left, top, right - left, bottom - top);
      ctx.clip();
      if (!p.idl) {
        ctx.strokeStyle = '#000';
        ctx.lineWidth = 1;
        p.detWave.forEach((w, i) => {
          const x = xs.getPixelForValue(w);
          const y1 = ys.getPixelForValue(DET_LO[i]);
          const y2 = ys.getPixelForValue(DET_HI[i]);
          ctx.beginPath();
          ctx.moveTo(x, y1); ctx.lineTo(x, y2);
          ctx.moveTo(x - 3, y1); ctx.lineTo(x + 3, y1);
          ctx.moveTo(x - 3, y2); ctx.lineTo(x + 3, y2);
          ctx.stroke();
        });
      } else {
        ctx.strokeStyle = '#ff0000';
        ctx.lineWidth = 1;
        TC_DET_WAVE.forEach((w, i) => {
          const x = xs.getPixelForValue(w);
          const y1 = ys.getPixelForValue(TC_DET_LO[i]);
          const y2 = ys.getPixelForValue(TC_DET_HI[i]);
          ctx.beginPath();
          ctx.moveTo(x, y1); ctx.lineTo(x, y2);
          ctx.moveTo(x - 3, y1); ctx.lineTo(x + 3, y1);
          ctx.moveTo(x - 3, y2); ctx.lineTo(x + 3, y2);
          ctx.stroke();
        });
        TC_LIMIT_WAVE.forEach((w, i) => {
          const x = xs.getPixelForValue(w);
          const yh = ys.getPixelForValue(TC_LIMIT_HI[i]);
          const y0 = ys.getPixelForValue(TC_LIMIT_FLUX[i]);
          const yt = ys.getPixelForValue(TC_LIMIT_TIP[i]);
          ctx.lineWidth = 1;
          ctx.beginPath();
          ctx.moveTo(x, yh); ctx.lineTo(x, y0);
          ctx.moveTo(x - 3, yh); ctx.lineTo(x + 3, yh);
          ctx.stroke();
          ctx.lineWidth = 2.2;
          ctx.beginPath();
          ctx.moveTo(x, y0); ctx.lineTo(x, yt);
          ctx.moveTo(x - 5.5, yt - 6.5); ctx.lineTo(x, yt); ctx.lineTo(x + 5.5, yt - 6.5);
          ctx.stroke();
        });
      }
      ctx.restore();
    },
    afterDraw(chart: any) {
      const ctx: CanvasRenderingContext2D = chart.ctx;
      const xs = chart.scales.x, ys = chart.scales.y;
      const { left, right, top, bottom } = chart.chartArea;
      const cx = (left + right) / 2, cy = (top + bottom) / 2;
      ctx.save();
      const frameCol = p.idl ? '#000' : '#4a4a4a';
      ctx.strokeStyle = frameCol;
      ctx.lineWidth = p.idl ? 2 : 1.2;
      ctx.strokeRect(left, top, right - left, bottom - top);
      ctx.lineWidth = 1;
      const maj = p.idl ? 6 : 5, mnr = p.idl ? 3 : 2.5;
      ctx.beginPath();
      for (const t of decadeTicks(p.xr[0], p.xr[1])) {
        const x = Math.round(xs.getPixelForValue(t.v)) + 0.5;
        const L = t.major ? maj : mnr;
        ctx.moveTo(x, bottom); ctx.lineTo(x, bottom - L);
        ctx.moveTo(x, top); ctx.lineTo(x, top + L);
      }
      for (const t of decadeTicks(p.yr[0], p.yr[1])) {
        const y = Math.round(ys.getPixelForValue(t.v)) + 0.5;
        const L = t.major ? maj : mnr;
        ctx.moveTo(left, y); ctx.lineTo(left + L, y);
        ctx.moveTo(right, y); ctx.lineTo(right - L, y);
      }
      ctx.stroke();

      ctx.fillStyle = '#111';
      if (!p.idl) {
        for (const v of X_TICK_LABELS) {
          const x = xs.getPixelForValue(v);
          drawFlow(ctx, [{ t: String(v), font: pf(SERIF, 10) }], x, bottom + 13.8, 'center');
        }
        for (const e of Y_EXP_PY) {
          const y = ys.getPixelForValue(Math.pow(10, e));
          drawFlow(ctx, [{ t: '10', font: pf(SERIF, 10) }, { t: String(e), font: pf(SERIF, 7), dy: -4.5 }], left - 10.5, y + 3.6, 'right');
        }
        drawFlow(ctx, [{ t: 'λ (', font: pf(SERIF, 13) }, { t: 'μ', font: pf(SERIF, 13, true) }, { t: 'm)', font: pf(SERIF, 13) }], cx, bottom + 30.5, 'center');
        ctx.save();
        ctx.translate(left - 45, cy);
        ctx.rotate(-Math.PI / 2);
        drawFlow(ctx, [
          { t: 'λF', font: pf(SERIF, 13) }, { t: 'λ', font: pf(SERIF, 9), dy: 3 },
          { t: p.idx === 6 ? '  (ergs/cm' : ' (ergs/cm', font: pf(SERIF, 13) }, { t: '2', font: pf(SERIF, 9), dy: -5 },
          { t: p.idx === 6 ? ' /s)' : '/s)', font: pf(SERIF, 13) }], 0, 4.5, 'center');
        ctx.restore();
        annotatePy(ctx, cx, top, p.idx);
      } else {
        ctx.fillStyle = '#000';
        for (const v of X_TICK_LABELS) {
          const x = xs.getPixelForValue(v);
          drawFlow(ctx, [{ t: String(v), font: pf(IDLF, 14) }], x, bottom + 19, 'center');
        }
        for (const e of Y_EXP_TC) {
          let y = ys.getPixelForValue(Math.pow(10, e));
          if (e === Y_EXP_TC[0]) y -= 4.7;
          drawFlow(ctx, [{ t: '10', font: pf(IDLF, 14) }, { t: '−' + String(-e), font: pf(IDLF, 10.5), dy: -6.5 }], left - 2.5, y + 6, 'right');
        }
        drawFlow(ctx, [{ t: 'λ (μm)', font: pf(IDLF, 15) }], cx, bottom + 35.5, 'center');
        ctx.save();
        ctx.translate(left - 50.7, cy);
        ctx.rotate(-Math.PI / 2);
        drawFlow(ctx, [
          { t: 'νF', font: pf(IDLF, 14.5) }, { t: 'ν', font: pf(IDLF, 10), dy: 3 },
          { t: '  (ergs s', font: pf(IDLF, 14.5) }, { t: '−1', font: pf(IDLF, 10), dy: -6 },
          { t: '  cm', font: pf(IDLF, 14.5) }, { t: '−2', font: pf(IDLF, 10), dy: -6 },
          { t: ')', font: pf(IDLF, 14.5) }], 0, 5, 'center');
        ctx.restore();
        annotateTc(ctx, cx, top);
      }
      ctx.restore();
    },
  };
}

function toXY(pts: Pt[]) {
  return pts.map(([x, y]) => ({ x, y }));
}

function buildConfig(p: Panel): any {
  const datasets: any[] = [];
  if (!p.idl) {
    datasets.push({
      data: LIMIT_WAVE.map((x, i) => ({ x, y: LIMIT_FLUX[i] })), showLine: false,
      pointStyle: 'triangle', rotation: 180, pointRadius: 4.2, backgroundColor: '#000', borderColor: '#000', borderWidth: 0, order: 0,
    });
    datasets.push({
      data: p.detWave.map((x, i) => ({ x, y: DET_FLUX[i] })), showLine: false,
      pointStyle: 'circle', pointRadius: 3.8, backgroundColor: '#000', borderColor: '#000', borderWidth: 0, order: 0,
    });
  } else {
    datasets.push({
      data: [...TC_LIMIT_WAVE.map((x, i) => ({ x, y: TC_LIMIT_FLUX[i] })), ...TC_DET_WAVE.map((x, i) => ({ x, y: TC_DET_FLUX[i] }))],
      showLine: false, pointStyle: 'rect', pointRadius: 4.2, backgroundColor: '#ff0000', borderColor: '#ff0000', borderWidth: 0, order: 0,
    });
  }
  datasets.push({
    data: toXY(p.fit), borderColor: '#000', borderWidth: 2, pointRadius: 0, tension: 0, fill: false, order: 1,
    borderJoinStyle: 'round',
  });
  for (const a of p.alts) {
    datasets.push({
      data: toXY(a), borderColor: p.idl ? '#a3a3a3' : '#c2c2c2', borderWidth: p.idl ? 1 : 1.6, pointRadius: 0, tension: 0, fill: false, order: 2,
      borderJoinStyle: 'round',
    });
  }
  return {
    type: 'line',
    data: { datasets },
    options: {
      responsive: false,
      animation: false,
      devicePixelRatio: 1,
      events: [],
      layout: { padding: { left: PAD.l, top: PAD.t, right: PAD.r, bottom: PAD.b } },
      scales: {
        x: { type: 'logarithmic', min: p.xr[0], max: p.xr[1], display: false },
        y: { type: 'logarithmic', min: p.yr[0], max: p.yr[1], display: false },
      },
      plugins: { legend: { display: false }, tooltip: { enabled: false }, title: { display: false } },
    },
    plugins: [makeDecor(p)],
  };
}

function SedPanel({ p }: { p: Panel }) {
  const ref = useRef<HTMLCanvasElement>(null);
  useEffect(() => {
    if (!ref.current) return;
    const chart = new Chart(ref.current, buildConfig(p));
    return () => chart.destroy();
  }, [p]);
  const [l, t, r, b] = p.box;
  const w = r - l + PAD.l + PAD.r;
  const h = b - t + PAD.t + PAD.b;
  return (
    <canvas
      ref={ref}
      width={w}
      height={h}
      style={{ position: 'absolute', left: l - PAD.l, top: t - PAD.t, width: w, height: h }}
    />
  );
}

export default function App() {
  return (
    <div style={{ position: 'absolute', left: 0, top: 0, width: 1275, height: 1650, background: '#fff', overflow: 'hidden' }}>
      {PANELS.map((p, i) => (
        <SedPanel key={i} p={p} />
      ))}
    </div>
  );
}
